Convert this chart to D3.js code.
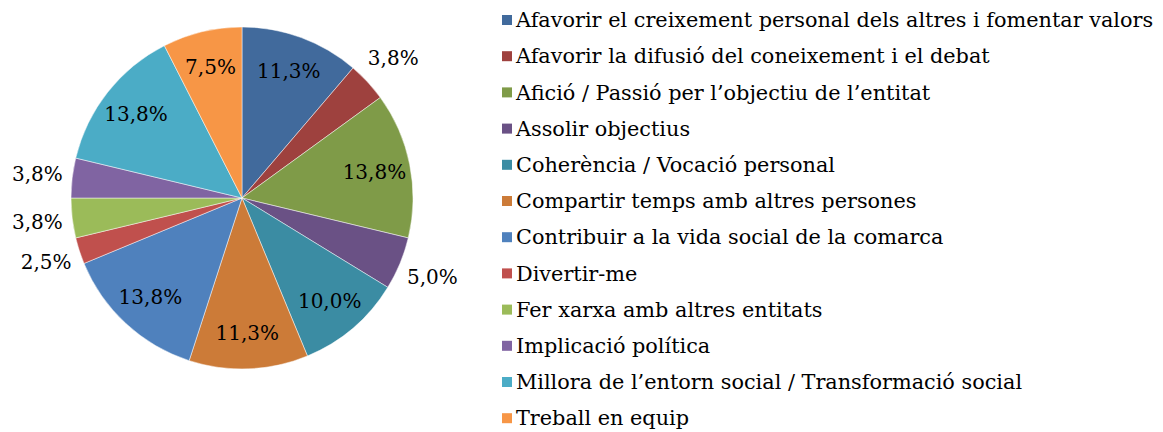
<!DOCTYPE html>
<html>
<head>
<meta charset="utf-8">
<script src="https://cdn.jsdelivr.net/npm/d3@7"></script>
<style>
  body { margin: 0; background: #fff; }
  text { font-family: "DejaVu Serif", "Liberation Serif", serif; fill: #000; }
</style>
</head>
<body>
<div id="chart"></div>
<script>
// categories and counts (out of 80 answers)
var categories = [
    "Afavorir el creixement personal dels altres i fomentar valors",
    "Afavorir la difusió del coneixement i el debat",
    "Afició / Passió per l’objectiu de l’entitat",
    "Assolir objectius",
    "Coherència / Vocació personal",
    "Compartir temps amb altres persones",
    "Contribuir a la vida social de la comarca",
    "Divertir-me",
    "Fer xarxa amb altres entitats",
    "Implicació política",
    "Millora de l’entorn social / Transformació social",
    "Treball en equip"
];
var counts = [9, 3, 11, 4, 8, 9, 11, 2, 3, 3, 11, 6];
var colors = ["#416a9c", "#9e413e", "#7f9b48", "#6a5185", "#3b8ca3", "#cc7b38",
              "#4f81bd", "#c0504d", "#9bbb59", "#8064a2", "#4bacc6", "#f79646"];

var width = 1163, height = 432;
var cx = 242, cy = 198, radius = 171;

var svg = d3.select("#chart")
  .append("svg")
    .attr("width", width)
    .attr("height", height);

var total = d3.sum(counts);
var fmt = function(v) { return (v / total * 100).toFixed(1).replace(".", ",") + "%"; };

var pie = d3.pie().sort(null).value(function(d) { return d; });
var arcs = pie(counts);

var arc = d3.arc().innerRadius(0).outerRadius(radius);
var inLabel = d3.arc().innerRadius(135).outerRadius(135);
var outLabel = d3.arc().innerRadius(206).outerRadius(206);

var g = svg.append("g")
    .attr("transform", "translate(" + cx + "," + cy + ")");

g.selectAll(".slice")
  .data(arcs)
  .enter()
  .append("path")
    .attr("class", "slice")
    .attr("d", arc)
    .attr("fill", function(d, i) { return colors[i]; })
    .attr("stroke", "#fff")
    .attr("stroke-opacity", 0.6)
    .attr("stroke-width", 0.8);

// small slices get their label outside
g.selectAll(".lbl")
  .data(arcs)
  .enter()
  .append("text")
    .attr("class", "lbl")
    .attr("transform", function(d) {
        var c = (d.value < 5 ? outLabel : inLabel).centroid(d);
        return "translate(" + c[0] + "," + c[1] + ")";
    })
    .attr("text-anchor", "middle")
    .attr("dy", "0.35em")
    .style("font-size", "20px")
    .text(function(d) { return fmt(d.value); });

// legend
var legend = svg.append("g")
    .attr("transform", "translate(502,20)");

var row = legend.selectAll(".row")
  .data(categories)
  .enter()
  .append("g")
    .attr("class", "row")
    .attr("transform", function(d, i) { return "translate(0," + (i * 36.2) + ")"; });

row.append("rect")
    .attr("x", 0)
    .attr("y", -5)
    .attr("width", 10)
    .attr("height", 10)
    .attr("fill", function(d, i) { return colors[i]; });

row.append("text")
    .attr("x", 14)
    .attr("dy", "0.35em")
    .style("font-size", "20.8px")
    .text(function(d) { return d; });
</script>
</body>
</html>
